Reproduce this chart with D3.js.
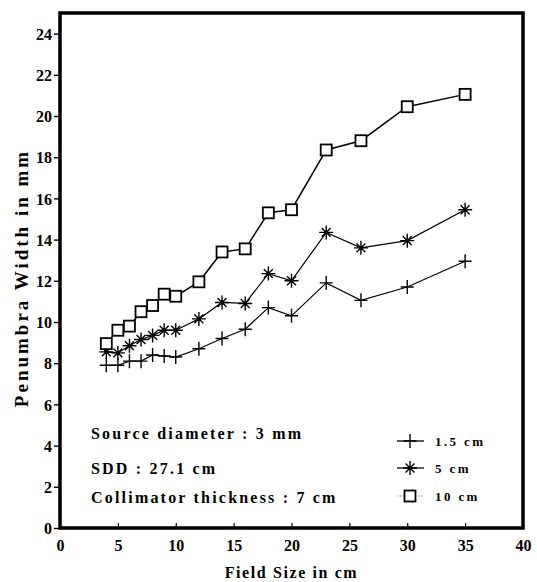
<!DOCTYPE html>
<html>
<head>
<meta charset="utf-8">
<script src="https://cdn.jsdelivr.net/npm/d3@7"></script>
<style>
  body { margin: 0; background: #fff; }
  svg text { font-family: "Liberation Serif", "Times New Roman", Times, "DejaVu Serif", serif; font-weight: bold; fill: #000; }
</style>
</head>
<body>
<div id="chart"></div>
<script>
// field sizes (cm) and penumbra widths (mm) for the three depths
const fieldSize = [4, 5, 6, 7, 8, 9, 10, 12, 14, 16, 18, 20, 23, 26, 30, 35];
const depth15 = [7.9, 7.9, 8.1, 8.1, 8.4, 8.35, 8.3, 8.7, 9.2, 9.65, 10.7, 10.3, 11.9, 11.05, 11.7, 12.95];
const depth5 = [8.55, 8.5, 8.85, 9.15, 9.35, 9.6, 9.6, 10.15, 10.95, 10.9, 12.35, 12.0, 14.35, 13.6, 13.95, 15.45];
const depth10 = [8.95, 9.6, 9.8, 10.5, 10.8, 11.35, 11.25, 11.95, 13.4, 13.55, 15.3, 15.45, 18.35, 18.8, 20.45, 21.05];

const seriesNames = ["1.5 cm", "5 cm", "10 cm"];
const seriesMarks = ["plus", "star", "square"];
const xTicks = [0, 5, 10, 15, 20, 25, 30, 35, 40];
const yTicks = [0, 2, 4, 6, 8, 10, 12, 14, 16, 18, 20, 22, 24];
const notes = ["Source diameter : 3 mm", "SDD : 27.1 cm", "Collimator thickness : 7 cm"];

const width = 537, height = 582;
const margin = { top: 13, right: 14, bottom: 54, left: 60 };
const serif = "'Liberation Serif', 'Times New Roman', Times, 'DejaVu Serif', serif";

const svg = d3.select("#chart").append("svg")
    .attr("width", width)
    .attr("height", height);

const x = d3.scaleLinear().domain([0, 40]).range([margin.left, width - margin.right]);
const y = d3.scaleLinear().domain([0, 25]).range([height - margin.bottom, margin.top]);

// marker shapes
function drawMark(g, kind, cx, cy) {
    if (kind === "plus") {
        g.append("path")
            .attr("d", `M${cx - 6.5},${cy}H${cx + 6.5}M${cx},${cy - 7}V${cy + 7}`)
            .attr("stroke", "#000").attr("stroke-width", 1.4);
    } else if (kind === "star") {
        const r = 7, a = 6.3 * Math.cos(Math.PI / 4);
        g.append("path")
            .attr("d", `M${cx},${cy - r}V${cy + r}M${cx - r},${cy}H${cx + r}` +
                `M${cx - a},${cy - a}L${cx + a},${cy + a}M${cx - a},${cy + a}L${cx + a},${cy - a}`)
            .attr("stroke", "#000").attr("stroke-width", 1.4);
        g.append("circle").attr("cx", cx).attr("cy", cy).attr("r", 2).attr("fill", "#000");
    } else {
        g.append("rect")
            .attr("x", cx - 5.5).attr("y", cy - 5.5)
            .attr("width", 11).attr("height", 11)
            .attr("fill", "#fff").attr("stroke", "#000").attr("stroke-width", 1.8);
    }
}

// axes ticks and labels
const xAxis = d3.axisBottom(x).tickValues(xTicks).tickSize(-5).tickPadding(12).tickFormat(d3.format("d"));
const xg = svg.append("g")
    .attr("transform", `translate(0,${y(0)})`)
    .call(xAxis)
    .attr("font-family", serif)
    .attr("font-size", 16);
xg.select(".domain").remove();
xg.selectAll(".tick line").attr("stroke-width", 1.2);

const yAxis = d3.axisLeft(y).tickValues(yTicks).tickSize(6).tickPadding(2).tickFormat(d3.format("d"));
const yg = svg.append("g")
    .attr("transform", `translate(${x(0)},0)`)
    .call(yAxis)
    .attr("font-family", serif)
    .attr("font-size", 16);
yg.select(".domain").remove();
yg.selectAll(".tick line").attr("stroke-width", 1.4);
yg.selectAll(".tick text").attr("dy", "0.36em");

// frame
svg.append("rect")
    .attr("x", x(0)).attr("y", y(25))
    .attr("width", x(40) - x(0)).attr("height", y(0) - y(25))
    .attr("fill", "none").attr("stroke", "#000").attr("stroke-width", 3.5);

// series
const allSeries = [depth15, depth5, depth10];
const line = d3.line().x((d, i) => x(fieldSize[i])).y(d => y(d));
allSeries.forEach((vals, si) => {
    svg.append("path")
        .datum(vals)
        .attr("d", line)
        .attr("fill", "none")
        .attr("stroke", "#000")
        .attr("stroke-width", si === 2 ? 1.5 : 1.2);
    const g = svg.append("g");
    vals.forEach((v, i) => drawMark(g, seriesMarks[si], x(fieldSize[i]), y(v)));
});

// notes inside plot
svg.selectAll("text.note")
    .data(notes)
    .enter()
    .append("text")
    .attr("class", "note")
    .attr("x", 91)
    .attr("y", (d, i) => [439, 474, 503][i])
    .style("font-size", "16px")
    .style("letter-spacing", "2.2px")
    .text(d => d);

// legend
const legendY = [441, 468, 496];
seriesNames.forEach((name, i) => {
    const g = svg.append("g");
    g.append("line")
        .attr("x1", 397).attr("x2", 424)
        .attr("y1", legendY[i]).attr("y2", legendY[i])
        .attr("stroke", "#000")
        .attr("stroke-width", i === 2 ? 0.8 : 1.3)
        .attr("stroke-dasharray", i === 2 ? "1.5,1.5" : null)
        .attr("opacity", i === 2 ? 0.5 : 1);
    drawMark(g, seriesMarks[i], 410, legendY[i]);
    g.append("text")
        .attr("x", 435)
        .attr("y", legendY[i] + 5)
        .style("font-size", "13px")
        .style("letter-spacing", "2.4px")
        .text(name);
});

// axis titles
svg.append("text")
    .attr("x", (x(0) + x(40)) / 2)
    .attr("y", 578)
    .attr("text-anchor", "middle")
    .style("font-size", "16px")
    .style("letter-spacing", "1.6px")
    .text("Field Size in cm");

svg.append("text")
    .attr("transform", "rotate(-90)")
    .attr("x", -278)
    .attr("y", 28)
    .attr("text-anchor", "middle")
    .style("font-size", "19px")
    .style("letter-spacing", "3px")
    .text("Penumbra Width in mm");
</script>
</body>
</html>
